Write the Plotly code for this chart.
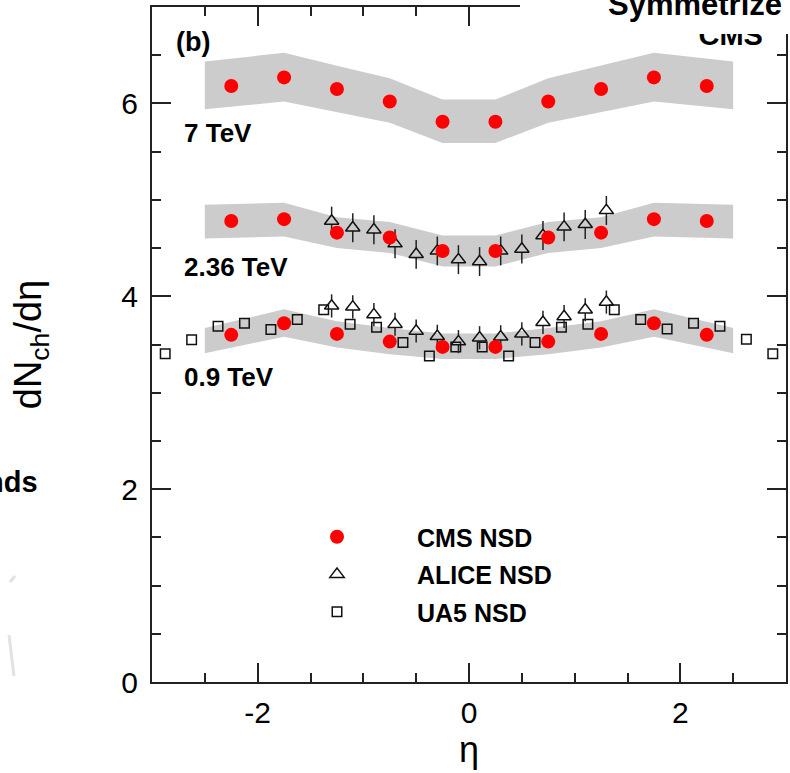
import plotly.graph_objects as go

# CMS NSD dN/deta, symmetrized in eta
cms_eta = [-2.25, -1.75, -1.25, -0.75, -0.25, 0.25, 0.75, 1.25, 1.75, 2.25]
cms_7tev = [6.18, 6.27, 6.15, 6.02, 5.81, 5.81, 6.02, 6.15, 6.27, 6.18]
cms_236tev = [4.78, 4.80, 4.66, 4.61, 4.47, 4.47, 4.61, 4.66, 4.80, 4.78]
cms_09tev = [3.60, 3.72, 3.61, 3.53, 3.475, 3.475, 3.53, 3.61, 3.72, 3.60]

# systematic uncertainty bands (lower / upper edge)
band_eta = [-2.5, -1.75, -1.25, -0.75, -0.25, 0.25, 0.75, 1.25, 1.75, 2.5]
band_7tev_lo = [5.94, 6.02, 5.91, 5.80, 5.59, 5.59, 5.80, 5.91, 6.02, 5.94]
band_7tev_hi = [6.435, 6.525, 6.39, 6.26, 6.04, 6.04, 6.26, 6.39, 6.525, 6.435]
band_236tev_lo = [4.60, 4.62, 4.50, 4.45, 4.31, 4.31, 4.45, 4.50, 4.62, 4.60]
band_236tev_hi = [4.95, 4.97, 4.82, 4.77, 4.63, 4.63, 4.77, 4.82, 4.97, 4.95]
band_09tev_lo = [3.41, 3.58, 3.47, 3.40, 3.35, 3.35, 3.40, 3.47, 3.58, 3.41]
band_09tev_hi = [3.67, 3.865, 3.74, 3.67, 3.615, 3.615, 3.67, 3.74, 3.865, 3.67]

# ALICE NSD
alice_eta = [-1.3, -1.1, -0.9, -0.7, -0.5, -0.3, -0.1, 0.1, 0.3, 0.5, 0.7, 0.9, 1.1, 1.3]
alice_236tev = [4.78, 4.71, 4.69, 4.545, 4.435, 4.47, 4.38, 4.36, 4.47, 4.49, 4.63, 4.72, 4.745, 4.89]
alice_236tev_err = [0.15] * 14
alice_09tev = [3.90, 3.89, 3.81, 3.71, 3.64, 3.585, 3.53, 3.57, 3.58, 3.61, 3.73, 3.79, 3.86, 3.94]
alice_09tev_err = [0.12] * 14

# UA5 NSD, 0.9 TeV
ua5_eta = [-2.875, -2.625, -2.375, -2.125, -1.875, -1.625, -1.375, -1.125, -0.875, -0.625, -0.375, -0.125,
           0.125, 0.375, 0.625, 0.875, 1.125, 1.375, 1.625, 1.875, 2.125, 2.375, 2.625, 2.875]
ua5_09tev = [3.405, 3.55, 3.69, 3.72, 3.655, 3.76, 3.86, 3.71, 3.68, 3.52, 3.38, 3.475,
             3.475, 3.38, 3.52, 3.68, 3.71, 3.86, 3.76, 3.66, 3.72, 3.69, 3.555, 3.405]

x_ticks = [-2, 0, 2]
y_ticks = [0, 2, 4, 6]

FONT = "Liberation Sans, Arial, sans-serif"
AXIS = "#222222"
BAND = "#cccccc"
TRI_SIZE = 12.5
GAP_UP = 0.066    # apex of the triangle marker, in y units
GAP_DOWN = 0.034  # base of the triangle marker, in y units

fig = go.Figure()

for lo, hi in [(band_7tev_lo, band_7tev_hi), (band_236tev_lo, band_236tev_hi), (band_09tev_lo, band_09tev_hi)]:
    fig.add_trace(go.Scatter(
        x=band_eta + band_eta[::-1], y=hi + lo[::-1],
        fill="toself", fillcolor=BAND, mode="lines", line=dict(width=0),
        hoverinfo="skip", showlegend=False))

fig.add_trace(go.Scatter(
    x=ua5_eta, y=ua5_09tev, mode="markers", name="<b>UA5 NSD</b>",
    marker=dict(symbol="square-open", size=9.5, color="#111111", line=dict(width=1.5, color="#111111")),
    legendgroup="c", legendrank=3))

# ALICE error bars, split around the open triangle markers
ex, ey = [], []
for vals, errs in [(alice_236tev, alice_236tev_err), (alice_09tev, alice_09tev_err)]:
    for x, v, e in zip(alice_eta, vals, errs):
        ex += [x, x, None, x, x, None]
        ey += [v + GAP_UP, v + e, None, v - GAP_DOWN, v - e, None]
fig.add_trace(go.Scatter(x=ex, y=ey, mode="lines", line=dict(color="#222222", width=1.5),
                         hoverinfo="skip", showlegend=False))

for i, vals in enumerate([alice_236tev, alice_09tev]):
    fig.add_trace(go.Scatter(
        x=alice_eta, y=vals, mode="markers", name="<b>ALICE NSD</b>",
        marker=dict(symbol="triangle-up-open", size=TRI_SIZE, color="#111111",
                    line=dict(width=1.5, color="#111111")),
        legendgroup="b", legendrank=2, showlegend=(i == 0)))

for i, vals in enumerate([cms_7tev, cms_236tev, cms_09tev]):
    fig.add_trace(go.Scatter(
        x=cms_eta, y=vals, mode="markers", name="<b>CMS NSD</b>",
        marker=dict(symbol="circle", size=14, color="#ff0000", line=dict(width=0)),
        legendgroup="a", legendrank=1, showlegend=(i == 0)))

# experiment tag, partly hidden under the header box
fig.add_trace(go.Scatter(
    x=[2.477], y=[6.68], mode="text", text=["<b>CMS</b>"],
    textfont=dict(family=FONT, size=29, color="#000000"),
    hoverinfo="skip", showlegend=False))

axis_common = dict(
    showline=True, linecolor=AXIS, linewidth=2, mirror="ticks",
    ticks="inside", ticklen=19, tickwidth=1.5, tickcolor=AXIS,
    showgrid=False, zeroline=False,
    tickfont=dict(family=FONT, size=30, color="#000000"),
)

fig.update_xaxes(
    range=[-3, 3], tickvals=x_ticks, ticktext=[str(v) for v in x_ticks],
    minor=dict(dtick=0.5, tick0=0, ticks="inside", ticklen=9, tickwidth=1.5, tickcolor=AXIS),
    ticklabelstandoff=3,
    title=dict(text="η", font=dict(family=FONT, size=36, color="#000000"), standoff=6),
    **axis_common)
fig.update_yaxes(
    range=[0, 7], tickvals=y_ticks, ticktext=[str(v) for v in y_ticks],
    minor=dict(dtick=0.5, tick0=0, ticks="inside", ticklen=9, tickwidth=1.5, tickcolor=AXIS),
    ticklabelstandoff=6,
    title=dict(text="dN<sub>ch</sub>/dη", font=dict(family=FONT, size=38, color="#000000"), standoff=68),
    **axis_common)

bold = lambda s: "<b>" + s + "</b>"
labels = [("(b)", -2.79, 6.64, 27), ("7 TeV", -2.72, 5.69, 26),
          ("2.36 TeV", -2.72, 4.30, 26), ("0.9 TeV", -2.72, 3.16, 26)]
annotations = [
    dict(text=bold(t), x=x, y=y, xref="x", yref="y", xanchor="left", yanchor="middle",
         showarrow=False, font=dict(family=FONT, size=s, color="#000000"))
    for t, x, y, s in labels
]
annotations += [
    dict(text=bold("Symmetrize"), x=(606 - 152) / 634, y=(682 - 4.5) / 675, xref="paper", yref="paper",
         xanchor="left", yanchor="middle", showarrow=False,
         font=dict(family=FONT, size=31, color="#000000")),
    dict(text=bold("nds"), x=(40 - 152) / 634, y=(682 - 482) / 675, xref="paper", yref="paper",
         xanchor="right", yanchor="middle", showarrow=False,
         font=dict(family=FONT, size=29, color="#000000")),
]

shapes = [
    dict(type="rect", xref="paper", yref="paper", x0=(520 - 152) / 634, x1=1.02,
         y0=(682 - 34) / 675, y1=1.02, fillcolor="#ffffff", line=dict(width=0), layer="above"),
    dict(type="line", xref="paper", yref="paper", x0=(10 - 152) / 634, y0=(682 - 582) / 675,
         x1=(15 - 152) / 634, y1=(682 - 576) / 675, line=dict(color="#e2e2e2", width=3)),
    dict(type="line", xref="paper", yref="paper", x0=(9 - 152) / 634, y0=(682 - 635) / 675,
         x1=(14 - 152) / 634, y1=(682 - 676) / 675, line=dict(color="#e2e2e2", width=3)),
]

fig.update_layout(
    width=790, height=773,
    margin=dict(l=152, r=4, t=7, b=91, autoexpand=False),
    paper_bgcolor="#ffffff", plot_bgcolor="#ffffff",
    showlegend=True,
    legend=dict(
        x=(257 - 152) / 634, y=(682 - 514) / 675, xanchor="left", yanchor="top",
        font=dict(family=FONT, size=25, color="#000000"),
        itemwidth=150, tracegroupgap=2, bgcolor="rgba(0,0,0,0)", borderwidth=0,
        traceorder="grouped"),
    annotations=annotations, shapes=shapes,
)

fig.write_html("out.html")
